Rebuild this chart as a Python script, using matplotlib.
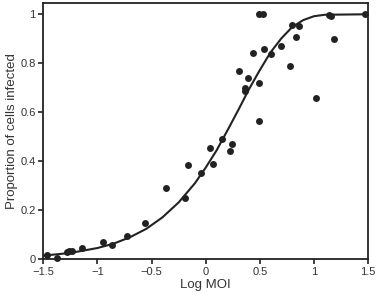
import matplotlib
matplotlib.use('Agg')
import matplotlib.pyplot as plt

plt.rcParams['font.family'] = ['Liberation Sans', 'DejaVu Sans']

# точки (log MOI, доля заражённых клеток)
log_moi = [-1.47, -1.378, -1.285, -1.26, -1.235, -1.147, -0.952, -0.863, -0.725, -0.558,
           -0.367, -0.189, -0.161, -0.044, 0.039, 0.070, 0.150, 0.224, 0.246, 0.310,
           0.363, 0.368, 0.393, 0.44, 0.492, 0.495, 0.49, 0.53, 0.541, 0.603,
           0.692, 0.782, 0.794, 0.831, 0.862, 1.019, 1.139, 1.157, 1.188, 1.472]
infected = [0.018, 0.004, 0.031, 0.034, 0.034, 0.047, 0.072, 0.057, 0.094, 0.149,
            0.292, 0.249, 0.385, 0.354, 0.455, 0.389, 0.490, 0.442, 0.469, 0.770,
            0.698, 0.688, 0.739, 0.841, 0.720, 0.566, 1.0, 1.0, 0.858, 0.838,
            0.871, 0.790, 0.956, 0.909, 0.952, 0.660, 0.997, 0.993, 0.898, 1.0]

# аппроксимирующая кривая
fit_x = [-1.5, -1.25, -1.0, -0.85, -0.7, -0.55, -0.4, -0.25, -0.1, 0.0, 0.1, 0.2, 0.3,
         0.4, 0.5, 0.6, 0.7, 0.8, 0.9, 1.0, 1.1, 1.5]
fit_y = [0.015, 0.026, 0.046, 0.064, 0.090, 0.124, 0.171, 0.232, 0.310, 0.374, 0.444,
         0.525, 0.608, 0.694, 0.772, 0.845, 0.902, 0.948, 0.976, 0.992, 0.998, 1.0]

dark = '#222222'
fig = plt.figure(figsize=(3.78, 2.95), dpi=100)
ax = fig.add_axes([0.1146, 0.121, 0.859, 0.8705])
ax.plot(fit_x, fit_y, color=dark, lw=1.5, zorder=2)
ax.plot(log_moi, infected, 'o', color=dark, ms=5, mec='none', zorder=3, clip_on=False)

ax.set_xlim(-1.5, 1.5)
ax.set_ylim(0, 1.048)
ax.set_xticks([-1.5, -1, -0.5, 0, 0.5, 1, 1.5])
ax.set_xticklabels(['\u22121.5', '\u22121', '\u22120.5', '0', '0.5', '1', '1.5'])
ax.set_yticks([0, 0.2, 0.4, 0.6, 0.8, 1])
ax.set_yticklabels(['0', '0.2', '0.4', '0.6', '0.8', '1'])
for s in ax.spines.values():
    s.set_linewidth(1.3)
    s.set_color(dark)
ax.tick_params(direction='out', length=3.5, width=1.2, color=dark,
               labelsize=8, labelcolor='#333333', pad=2)
ax.set_xlabel('Log MOI', fontsize=9.5, color='#333333', labelpad=1.5)
ax.set_ylabel('Proportion of cells infected', fontsize=9.5, color='#333333', labelpad=2)

fig.savefig('out.png', dpi=100)
